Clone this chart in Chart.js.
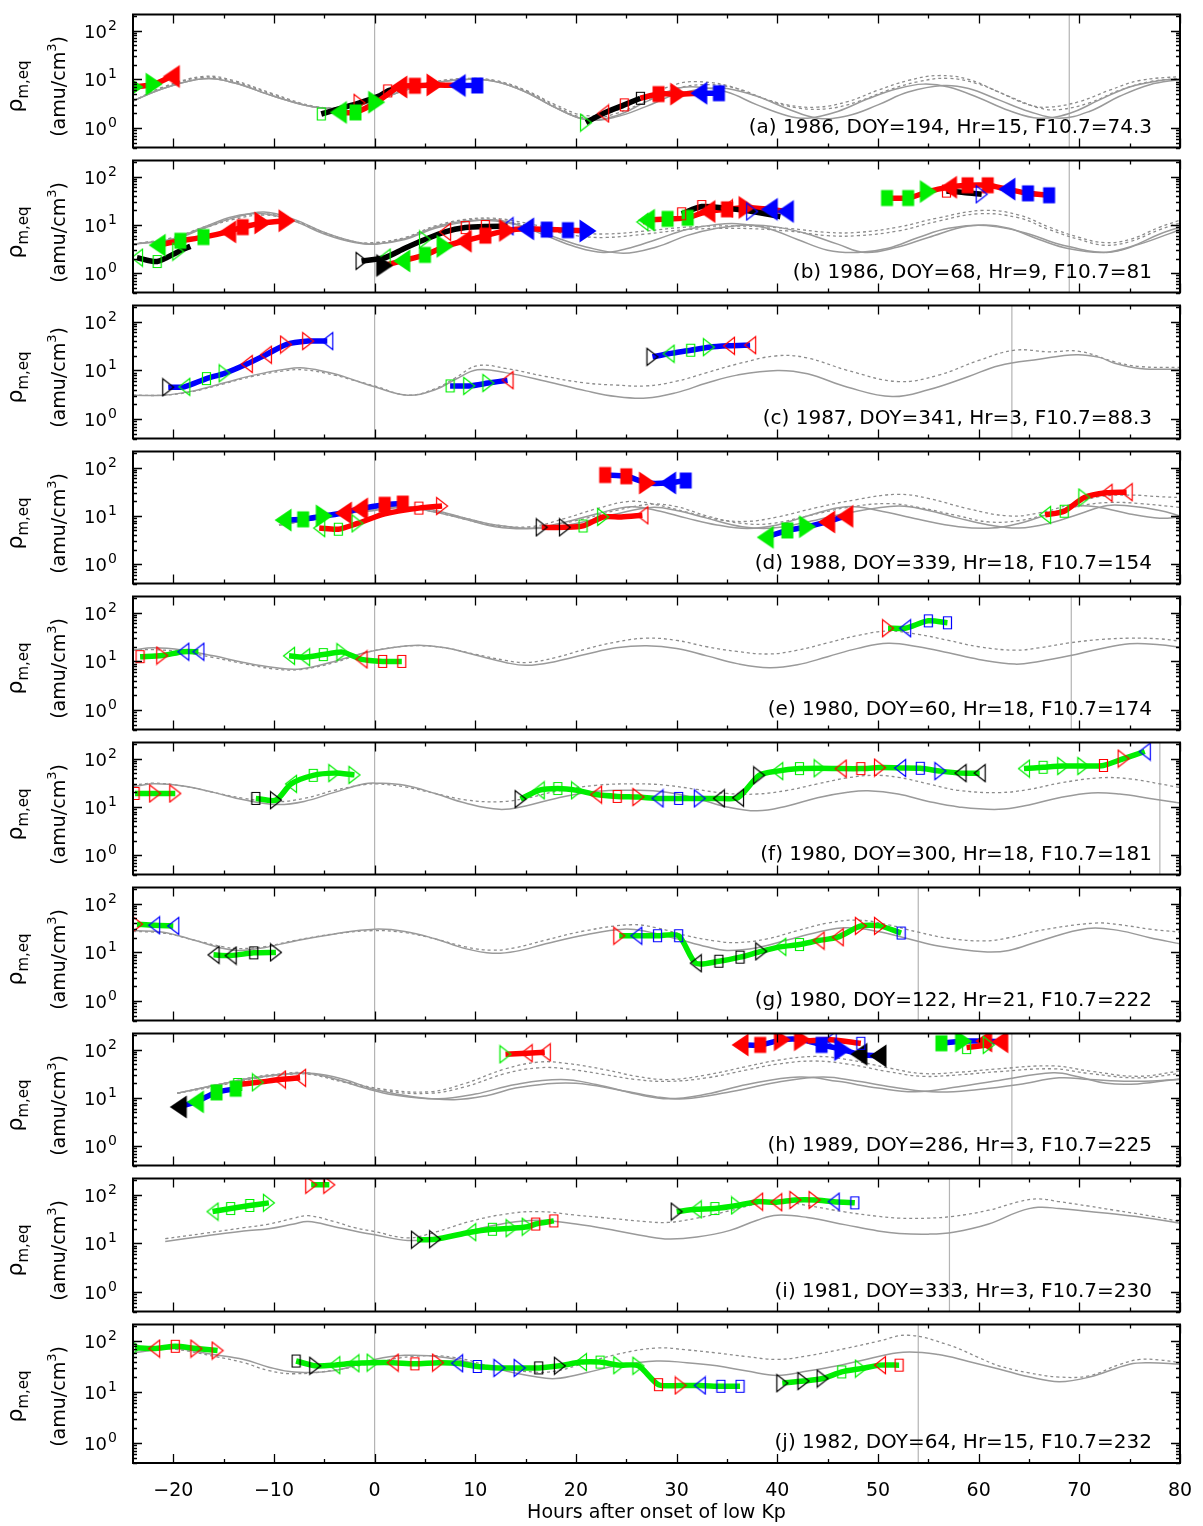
<!DOCTYPE html>
<html>
<head>
<meta charset="utf-8">
<script src="https://cdn.jsdelivr.net/npm/chart.js@4.4.0/dist/chart.umd.min.js"></script>
<style>
  body { margin: 0; background: #fff; width: 1203px; height: 1526px; position: relative; overflow: hidden; }
  canvas { position: absolute; left: 0; }
</style>
</head>
<body>
<script>
// ---- observed density groups (hours after onset, amu/cm^3) ----
// symbol codes: colour (k r b g) + shape (L/R triangle, S square) + f filled / o open
const aObs = [
  [[-23.8, 7], [-21.9, 8], [-20.2, 11.5]],
  [[-5.3, 1.95], [-3.5, 2.5], [-1.5, 3.3], [0.5, 4.6], [1.3, 5.8], [2.2, 6.6]],
  [[-3.6, 2.1], [-1.9, 2.1], [0.2, 3.4], [2.4, 7], [4, 7.4], [6, 7.7], [8.2, 7.5]],
  [[8.2, 7.5], [10.2, 7.5]],
  [[21, 1.3], [22.7, 2], [24.8, 3], [26.4, 4.1]],
  [[26.4, 4.1], [28.2, 5], [30.2, 5], [32.2, 5.2]],
  [[32.2, 5.2], [34.2, 5.2]]
];
const aSym = [
  ['gRf', 'gRf', 'rLf'],
  ['gSo', '', 'rRo', '', 'rSo', ''],
  ['gLf', 'gSf', 'gRf', 'rLf', 'rSf', 'rRf', 'bLf'],
  ['', 'bSf'],
  ['gRo', 'rLo', 'rSo', 'kSo'],
  ['', 'rSf', 'rRf', 'bLf'],
  ['', 'bSf']
];
const aLine = 'rkrbkrb';

const bObs = [
  [[-23.6, 2.1], [-21.6, 1.75], [-19.5, 2.8], [-18.3, 3.6]],
  [[-21.6, 3.8], [-19.3, 4.7], [-17, 5.6], [-14.6, 7.2], [-13.1, 9], [-11.1, 11], [-8.7, 12.2]],
  [[-1.3, 1.8], [1, 2.1], [3, 3.3], [5, 5], [7, 7.2], [9, 8.8], [11, 9.3], [13.2, 9.4]],
  [[1, 1.45], [2.7, 1.8], [5, 2.4], [7, 3.6], [8.8, 4.6], [11, 6], [13.2, 7.7], [15, 8.3], [17.1, 8], [19.2, 7.8], [21.2, 7.5]],
  [[26.6, 11.5], [27, 12.5], [29.1, 13.3], [31.1, 14], [33, 19], [35, 21], [37, 23], [39.2, 21], [40.8, 19]],
  [[30.5, 17], [32.5, 24], [35, 22], [37.5, 19], [40.3, 14.8]],
  [[50.9, 36], [53, 36], [55, 49], [57, 60], [58.9, 66], [60.9, 66], [62.8, 55], [64.9, 45], [67, 41]],
  [[56.8, 50], [58.5, 47], [60.3, 43]]
];
const bSym = [
  ['gLo', 'gSo', 'gRo', ''],
  ['gLf', 'gSf', 'gSf', 'rLf', 'rSf', 'rRf', 'rRf'],
  ['kRo', 'gLo', '', 'gRo', 'rLo', 'rSo', 'rSo', 'bLo'],
  ['kRf', 'gLf', 'gSf', 'gRf', 'rLf', 'rSf', 'rRf', 'bLf', 'bSf', 'bSf', 'bRf'],
  ['gLo', 'gLf', 'gSf', 'gSf', 'rLf', 'rSf', 'rRf', 'bLf', 'bLf'],
  ['rSo', 'rSo', 'rLo', 'bRo', ''],
  ['gSf', 'gSf', 'gRf', 'rLf', 'rSf', 'rSf', 'bLf', 'bSf', 'bSf'],
  ['rSo', '', 'bRo']
];
const bLine = 'krkrrkrk';

const cObs = [
  [[-20.5, 4.5], [-18.9, 4.6], [-16.7, 6.8], [-14.9, 8.7], [-12.7, 13.5], [-10.8, 21], [-8.8, 34], [-6.6, 40], [-4.7, 40]],
  [[7.5, 4.8], [9.4, 4.8], [11.3, 5.5], [13.2, 6.3]],
  [[27.6, 19], [29.2, 22], [31.4, 26], [33.2, 30], [35.2, 32], [37.3, 33]]
];
const cSym = [
  ['kRo', 'gLo', 'gSo', 'gRo', 'rLo', 'rLo', 'rRo', 'rRo', 'bLo'],
  ['gSo', 'gRo', 'gRo', 'rLo'],
  ['kRo', 'gLo', 'gSo', 'gRo', 'rLo', 'rLo']
];
const cLine = 'bbb';

const dObs = [
  [[-9.1, 8.2], [-7.1, 8.5], [-5, 10], [-3.1, 11.5], [-1.5, 14], [1, 17], [2.8, 18]],
  [[-5.5, 5.6], [-3.6, 5.3], [-1.7, 7], [1, 11], [4.4, 14.5], [6.7, 16]],
  [[22.9, 70], [25, 66], [27.1, 48], [29.1, 48], [30.9, 54]],
  [[16.6, 5.8], [18.9, 5.8], [20.7, 6.2], [22.7, 9.5], [24.5, 9.5], [26.6, 10.3]],
  [[38.8, 3.6], [41, 5], [43, 6], [44.9, 7.5], [46.7, 9.8]],
  [[66.6, 10.5], [68.5, 12.5], [70.5, 24], [72.7, 30], [74.7, 31]]
];
const dSym = [
  ['gLf', 'gSf', 'gRf', 'rLf', 'rLf', 'rSf', 'rSf'],
  ['gLo', 'gSo', 'gRo', '', 'rSo', 'rRo'],
  ['rSf', 'rSf', 'rRf', 'bLf', 'bSf'],
  ['kRo', 'kRo', 'gSo', 'gRo', '', 'rLo'],
  ['gLf', 'gSf', 'gRf', 'rLf', 'rLf'],
  ['gLo', 'gSo', 'gRo', 'rLo', 'rLo']
];
const dLine = 'brbrbr';

const eObs = [
  [[-23.3, 12.5], [-21.1, 13.2], [-19, 15.8], [-17.5, 15.8]],
  [[-8.5, 13], [-7, 12.2], [-5.1, 13.8], [-3.2, 15.5], [-1.3, 11], [0.8, 10], [2.7, 10]],
  [[51, 48], [52.7, 48], [55, 68], [56.9, 62]]
];
const eSym = [
  ['rSo', 'rRo', 'bLo', 'bLo'],
  ['gLo', 'gLo', 'gSo', 'gRo', 'rLo', 'rSo', 'rSo'],
  ['rRo', 'bLo', 'bSo', 'bSo']
];
const eLine = 'ggg';

const fObs = [
  [[-23.8, 19], [-21.8, 19], [-19.8, 19]],
  [[-11.8, 15], [-9.8, 13.8], [-8.3, 30], [-6.1, 45], [-4, 50], [-2, 46]],
  [[14.5, 14.5], [16.3, 22], [18.2, 24], [20.1, 22], [22, 18], [24.1, 16.5], [26.2, 16], [28.1, 15], [30.2, 15], [32.3, 15], [34.2, 15], [36.1, 15.5],
   [38.2, 45], [40, 55], [42.2, 62], [44.2, 63], [46.3, 62], [48.3, 62], [50.2, 65], [52.2, 64], [54.2, 63], [56.2, 55], [58.2, 50], [60.1, 50]],
  [[64.5, 62], [66.4, 66], [68.4, 70], [70.4, 70], [72.4, 72], [74.4, 100], [76.5, 140]]
];
const fSym = [
  ['rSo', 'rRo', 'rRo'],
  ['kSo', 'kRo', 'gLo', 'gSo', 'gRo', 'gRo'],
  ['kRo', 'gLo', 'gSo', 'gRo', 'rLo', 'rSo', 'rRo', 'bLo', 'bSo', 'bRo', 'kLo', 'kLo',
   'kRo', 'gLo', 'gSo', 'gRo', 'rLo', 'rSo', 'rRo', 'bLo', 'bSo', 'bRo', 'kLo', 'kLo'],
  ['gLo', 'gSo', 'gRo', 'gRo', 'rSo', 'rRo', 'bLo']
];
const fLine = 'gggg';

const gObs = [
  [[-23.6, 38], [-21.9, 36], [-20, 35]],
  [[-16, 8.9], [-14.3, 8.6], [-12, 9.8], [-9.8, 10]],
  [[24.3, 22], [26, 22], [28.1, 22], [30.2, 22], [31.9, 6], [34.2, 6.6], [36.3, 8], [38.4, 10.5], [40.3, 13], [42.2, 14.5],
   [44.1, 17.5], [46, 20.5], [48.3, 35], [50.2, 35], [52.3, 25]]
];
const gSym = [
  ['rRo', 'bLo', 'bLo'],
  ['kLo', 'kLo', 'kSo', 'kRo'],
  ['rRo', 'bLo', 'bSo', 'bSo', 'kLo', 'kSo', 'kSo', 'kRo', 'gLo', 'gSo', 'rLo', 'rLo', 'rRo', 'rRo', 'bSo']
];
const gLine = 'ggg';

const hObs = [
  [[-19.5, 6.5], [-17.8, 8.3], [-15.7, 13], [-13.8, 15.5]],
  [[-13.6, 19], [-11.6, 21], [-9.4, 24], [-7.4, 26]],
  [[13, 80], [15.1, 84], [16.9, 88]],
  [[36.3, 125], [38.3, 125], [40.5, 160], [42.5, 160], [44.4, 125], [46.5, 100], [48.1, 80], [50, 74]],
  [[43, 150], [45.3, 160], [48.3, 135]],
  [[56.3, 135], [58.5, 150], [60.5, 150], [62.1, 145]],
  [[58.8, 110], [61, 125]]
];
const hSym = [
  ['kLf', 'gLf', 'gSf', 'gSf'],
  ['gSo', 'gRo', 'rLo', 'rLo'],
  ['gRo', 'rLo', 'rLo'],
  ['rLf', 'rSf', 'rRf', 'rRf', 'bSf', 'bRf', 'kLf', 'kLf'],
  ['', 'bLo', 'bSo'],
  ['gSf', 'gRf', 'rLf', 'rLf'],
  ['gSo', 'gRo']
];
const hLine = 'brrbrbr';

const iObs = [
  [[-16.1, 45], [-14.3, 52], [-12.4, 60], [-10.5, 68]],
  [[-6.3, 160], [-4.5, 160]],
  [[4.2, 11.9], [6, 12.2], [9.5, 17], [11.7, 19.5], [13.6, 20.5], [15.2, 22], [16, 25], [17.8, 29]],
  [[30, 45], [31.9, 50], [33.8, 52], [36, 60], [38, 72], [39.9, 70], [41.8, 78], [43.7, 78], [45.6, 72], [47.7, 68]]
];
const iSym = [
  ['gLo', 'gSo', 'gSo', 'gRo'],
  ['rRo', 'rRo'],
  ['kRo', 'kRo', 'gLo', 'gSo', 'gRo', 'gRo', 'rSo', 'rSo'],
  ['kRo', 'gLo', 'gSo', 'gRo', 'rLo', 'rLo', 'rRo', 'rRo', 'bLo', 'bSo']
];
const iLine = 'gggg';

const jObs = [
  [[-23.8, 75], [-21.9, 72], [-19.8, 80], [-17.7, 72], [-15.6, 66]],
  [[-7.8, 41], [-5.9, 33], [-4, 34], [-2.1, 37], [-0.2, 38], [1.8, 38], [4, 36], [6.3, 38], [8.2, 37], [10.2, 32], [12.4, 30], [14.4, 30],
   [16.3, 30], [18.4, 33], [20.5, 39], [22.4, 39], [24.3, 34], [26.2, 33], [28.2, 14], [30.4, 13.5], [32.3, 13.5], [34.4, 13], [36.3, 13]],
  [[40.5, 15], [42.6, 16.5], [44.5, 18.5], [46.4, 25], [48.3, 29], [50.2, 34], [52.1, 34]]
];
const jSym = [
  ['gRo', 'rLo', 'rSo', 'rRo', 'rRo'],
  ['kSo', 'kRo', 'gLo', 'gLo', 'gRo', 'rLo', 'rSo', 'rRo', 'bLo', 'bSo', 'bRo', 'bRo',
   'kSo', 'kRo', 'gLo', 'gSo', 'gRo', 'gRo', 'rSo', 'rRo', 'bLo', 'bSo', 'bSo'],
  ['kRo', 'kRo', 'kRo', 'gSo', 'gRo', 'rLo', 'rSo']
];
const jLine = 'ggg';

// ---- model curves (solid and dashed) ----
const aSolid1 = [[-24,3.6],[-21,6.5],[-17,10.3],[-14,8.5],[-10,4.5],[-6,2.7],[-3,2.6],[0,3.6],[3,6],[6,8.5],[9,10],[12,9],[15,5.5],[18,2.6],[21,1.5],[24,1.8],[27,3.5],[30,6.5],[32,7],[35,5.5],[38,3],[41,1.8],[43,1.6],[46,2.2],[49,4],[52,6.5],[54.5,8],[57,7],[60,4.2],[63,2.3],[66,1.6],[69,2],[72,3.8],[75,7],[78,9.5],[80,10]];
const aSolid2 = [[-24,3.6],[-21,6.5],[-17,10.3],[-14,8.5],[-10,4.5],[-6,2.7],[-3,2.6],[0,3.6],[3,6],[6,8.5],[9,10],[12,9],[15,5.5],[18,2.6],[21,1.5],[24,1.7],[27,2.8],[30,5],[33,6.5],[35,6.5],[38,4.5],[41,2.5],[44,1.6],[47,1.8],[50,3],[53,5.5],[56.5,7.5],[59,6.5],[62,3.8],[65,2.2],[68,1.6],[71,2.2],[74,4.5],[77,7.8],[80,10]];
const aDashed1 = [[-24,3.6],[-21,7],[-17,11.5],[-14,9.5],[-10,5],[-6,2.8],[-3,2.7],[0,3.8],[3,6.5],[6,9],[9,10.5],[12,9.5],[15,6],[18,3],[21,1.8],[24,2.3],[27,4.5],[30,8],[32,9],[35,7.5],[38,4.5],[41,3],[44,2.7],[47,3.5],[50,6],[53,9.5],[56,12],[59,10],[62,5.5],[65,3],[67,2.7],[70,3.5],[73,6],[76,9.5],[80,11.5]];
const aDashed2 = [[-24,3.6],[-21,6.8],[-17,11],[-14,9],[-10,4.8],[-6,2.7],[-3,2.7],[0,3.7],[3,6.2],[6,8.7],[9,10.2],[12,9.2],[15,5.8],[18,2.8],[21,1.6],[24,2],[27,3.6],[30,6.5],[33,7.8],[36,6.5],[39,3.8],[42,2.6],[45,2.5],[48,3.5],[51,6],[54,9],[57,10.5],[60,8],[63,4.5],[66,2.6],[68,2.4],[71,3.3],[74,6],[77,9],[80,10.5]];

const bSolid1 = [[-24,4],[-20,5],[-17,8.5],[-14,14],[-11,18.5],[-8,13],[-5,7],[-2,4.5],[0,4],[3,5],[6,8.5],[9,11.5],[11.7,12.8],[14,10.5],[17,6],[20,3.5],[22.7,2.7],[25,3.2],[28,5],[31,8],[34,10.2],[36,10.6],[39,8.5],[42,5],[45,3],[48,2.7],[51,3.3],[54,5.5],[57,8.5],[60.5,10],[63,8.5],[66,5],[69,3.2],[72.4,2.7],[75,3.5],[78,6.5],[80,9]];
const bSolid2 = [[-24,4],[-20,5.2],[-17,9],[-14,15],[-11,17],[-8,12],[-5,6.5],[-2,4.3],[0,4],[3,5.2],[6,9],[9,12],[12,12],[15,9],[18,5.5],[21,3.5],[24.7,2.6],[28,3.5],[31,6],[34,8.5],[37.2,10],[40,9],[43,6.5],[46,4],[48.7,2.7],[52,3.5],[55,5.5],[59,9.5],[62,9],[65,6.5],[68,4],[72.7,2.7],[76,4],[80,8]];
const bDashed1 = [[-24,4],[-20,5.5],[-17,9],[-14,14],[-11,17],[-8,12.5],[-5,7],[-2,4.5],[0,4.3],[3,5.5],[6,9.5],[9,13],[11.7,13.8],[14,12],[17,9],[20,7],[23,6.5],[27,7.5],[31,9],[36,9.5],[41,8.5],[45,7],[48,7],[52,9],[56,14],[60.5,20],[64,16],[67,9],[70,5.5],[72.5,4.3],[75,5],[78,9],[80,12.5]];
const bDashed2 = [[-24,4],[-20,5.3],[-17,8.5],[-14,13],[-11,16],[-8,12],[-5,6.8],[-2,4.4],[0,4.2],[3,5.3],[6,9],[9,12.5],[11.7,13],[14,11],[17,8],[20,6],[23,5.5],[27,6.5],[31,8],[36,8.5],[41,7.5],[45,6],[48,6],[52,7.5],[56,12],[60,17],[64,14],[67,8],[70,5],[72.5,3.8],[75,4.5],[78,8],[80,11]];

const cSolid = [[-24,3.1],[-21,3.1],[-18,3.8],[-15,5.5],[-12,8],[-9,10.5],[-7,11.2],[-4,8.5],[-2,6.3],[0,4.6],[3.3,3.1],[6,4],[8,6.5],[10.2,10.3],[13,9],[17,6],[21,3.8],[24,2.9],[27,2.7],[30,3.5],[33,5.5],[36,8],[40,10],[43,8.5],[47,4.5],[51.4,2.9],[55,4],[59,7.5],[62,12.5],[66,17],[69.7,21],[72,18.5],[73.5,14],[76,11],[80,10.5]];
const cDashed = [[-24,3.1],[-21,3.1],[-18,3.7],[-15,5.3],[-12,7.6],[-9,9.8],[-7,10.3],[-4,8],[-2,6.2],[0,4.8],[3.3,3.1],[6,4.2],[8,7],[10.2,12.5],[13,11],[17,7.5],[21,5.5],[24,5],[27,4.8],[30,6],[33,9],[36,13.5],[40,20],[43,18],[47,10],[52,5.9],[56,8],[60,16],[63.6,26],[67,24],[70,24.7],[73.5,15],[76,12],[80,11.5]];

const dSolid1 = [[-9.5,6.5],[-6,8.5],[-3,11],[0,13],[3,15],[6,12],[9,8.5],[12,6],[15.5,5.5],[19,7.5],[22,11],[25.4,15.5],[28,13],[31,9],[34,6.5],[37,5.5],[40,6.5],[43,10],[46.8,15.5],[50,13],[54,8.5],[58,6],[61.3,5.6],[64,7],[67,11],[69.7,16],[72,15],[75,11],[78,9],[80,9.5]];
const dSolid2 = [[-9.5,6.5],[-6,8.5],[-3,11],[0,13.5],[3,15.5],[6,13],[9,9],[12,6.5],[16,5.5],[20,7],[24,11],[27.5,15],[30,13],[33,9],[36.5,6],[39.5,5.6],[43,7.5],[47,11.5],[52,16],[55,13],[58,9],[61,6.5],[64,5.6],[67,7],[70,11],[72.8,16.5],[75,16],[78,13],[80,10]];
const dDashed1 = [[-9.5,6.5],[-6,8.7],[-3,11.5],[0,14],[3,15.5],[6,12.5],[9,9],[12,6.5],[15.5,6],[19,9],[22,14],[25.4,20],[28,17],[31,12],[34,8.5],[37,7.7],[40,9.5],[44,15],[48,22],[52,28],[55,23],[59,14],[63,10],[66,11.5],[69,17],[72,25],[75,27],[78,25],[80,24]];
const dDashed2 = [[-9.5,6.5],[-6,8.5],[-3,11],[0,13.5],[3,15],[6,12],[9,8.5],[12,6.2],[16,5.7],[20,8],[24,13],[27.5,17.5],[30,15.5],[33,10],[36.5,7],[39.5,7],[43,10],[47,15],[51,18],[54,15],[58,10],[61,7.5],[64,8],[67,11],[70,16],[73,19],[76,18],[80,15]];

const eSolid = [[-24,17],[-22,19],[-19,17],[-16,13],[-13,9.5],[-10,7.5],[-7.4,7],[-4,10],[-1,15],[2,19.5],[4.4,21.5],[7,19],[10,13.5],[13,9.5],[15.1,8.3],[18,10],[21,14],[24,19],[27,21],[30,18.5],[33,13],[36,9],[39.2,7.4],[42,8.5],[45,12.5],[48,18.5],[51,23.5],[54,20],[57,15],[60,11],[63.6,8.8],[66,10],[69,13],[72,18],[75,23],[78,22],[80,19.5]];
const eDashed = [[-24,17],[-22,17.5],[-19,15.5],[-16,12],[-13,9],[-10,7],[-7.4,6.8],[-4,9.5],[-1,15],[2,19.5],[4.4,21],[7,19],[10,14],[13,10.5],[15.1,9.5],[18,12],[21,18],[24,25],[27,30],[30,27],[33,20],[36,16],[39.2,14.2],[42,17],[45,24],[48,34],[51,42],[54,36],[57,27],[60,20],[63.6,17],[66,19],[69,24],[72,28],[75,30],[78,29],[80,26]];

const fSolid = [[-24,26],[-22,30],[-19,27],[-16,20],[-13,14],[-9.7,11.2],[-7,13],[-4,20],[-1,30],[0.2,31],[3,28],[6,19],[9,12],[12.4,8.9],[15,10.5],[18,15],[22,21],[26.2,22],[29,20],[32,15],[35,10],[38,8.3],[41,10.5],[44,15.5],[47,20],[49,21.5],[52,18.5],[55,13],[58,10],[62,8.9],[65,11],[68,15.5],[71.2,19.5],[74,18.5],[77,15],[80,12]];
const fDashed = [[-24,28],[-22,31],[-19,27],[-16,20],[-13,15],[-9.7,12.8],[-7,15],[-4,22],[-1,29],[0.2,30],[3,26],[6,19],[9,14],[12.4,12.8],[15,15],[18,21],[22,28],[26.2,30],[29,28],[32,23],[35,19],[38,18.5],[41,22],[44,30],[47,40],[49.5,45],[52,41],[55,30],[58,22],[62,19.8],[65,23],[68,31],[72,40],[75,38],[78,30],[80,25]];

const gSolid = [[-24,28],[-21,26],[-18,18],[-15,12],[-13.5,11],[-11,12.5],[-8,17],[-4,24],[0,30],[3,27],[6,19],[9,12],[11.7,9.6],[14,10.5],[17,15],[21,23],[24.7,30],[27,27],[30,19],[33,13],[35,11],[38,12.5],[41,18],[44,26],[46.8,32],[50,27],[53,19],[56,13.5],[60.5,10.3],[63,11],[66,17],[70.8,31],[74,28],[77,20],[80,15]];
const gDashed = [[-24,27],[-21,25],[-18,18],[-15,13],[-13.5,12],[-11,13],[-8,17.5],[-4,24],[0,28],[3,25.5],[6,19],[9,13],[11.7,11.1],[14,12.5],[17,18],[21,28],[25.5,37],[28,32],[31,22],[34,17],[36,15.9],[39,19],[42,28],[45,40],[48,46],[51,37],[54,26],[57,19.5],[60.5,17.2],[63,20],[66,28],[71.5,40],[74,37],[77,30],[80,26]];

const hSolid1 = [[-19.6,12.5],[-16,18],[-12,26],[-9,31],[-6.6,32],[-4,25],[-1,16],[2,11.5],[6.3,9.6],[10,12],[14,19],[18.5,24],[22,19],[26,12],[29.2,9.6],[33,12],[37,19],[42.2,27],[46,22],[50,16],[53.7,13.4],[58,17],[62,23],[67.4,33],[70,27],[72.7,20],[75.8,19.5],[80,25]];
const hSolid2 = [[-19.6,12.5],[-16,18],[-12,26],[-9,31],[-6,32],[-3,24],[0,15],[4,10.5],[7.9,9.2],[11,11],[14,16],[17,19.5],[20,20],[24,15],[28,10.5],[30.8,9.6],[35,13],[40,21],[44.5,27],[48,22],[52,16],[56,13.2],[60,15],[64,19],[68,26],[71,24],[75,22],[80,24]];
const hDashed1 = [[-19.6,12.5],[-16,18],[-12,27],[-9,32],[-6.6,33],[-3,22],[1,15],[5.6,13.5],[9,20],[13,40],[16.3,55],[19,52],[23,38],[26,28],[29.2,24],[33,30],[37,45],[40,60],[43.7,72],[47,62],[51,42],[54.4,32],[58,34],[62,40],[67.4,46],[71,36],[75.8,28],[80,36]];
const hDashed2 = [[-19.6,12.5],[-16,17],[-12,25],[-9,30],[-6.6,31],[-3,21],[1,14],[5.6,12.5],[9,17],[13,32],[16.3,42],[19,40],[23,30],[26,24],[29.2,22],[33,26],[37,38],[40,50],[43.7,58],[47,50],[51,35],[54.4,28],[58,30],[62,35],[67.4,40],[71,32],[75.8,26],[80,32]];

const iSolid = [[-20.8,11],[-17,14],[-13,18],[-10.5,20],[-8,25],[-6.6,28],[-4,22],[-2,18],[0,15],[3.3,11.5],[6,12.5],[9.4,18],[13,26],[16.3,30],[20,25],[23.9,18.5],[27,14],[29.2,12.3],[32,13.5],[35.3,18.5],[38,30],[40,38],[43,34],[46.8,24],[50,18],[52.1,16],[55,15.5],[57.5,17],[61,25],[64,45],[65.9,55],[68,52],[71,45],[73.5,40],[77.3,32],[80,26]];
const iDashed = [[-20.8,12.5],[-17,16],[-13,21],[-10.5,25],[-8,33],[-6.6,37],[-4,28],[-2,21],[0,17.5],[3.3,13],[6,17],[9.4,28],[13,40],[16.3,45],[20,38],[23.9,32],[27,28],[29.2,27],[32,33],[35.3,47],[38,65],[40,75],[43,60],[46.8,44],[50,36],[52.1,33],[55,33],[57.5,36],[61,48],[64,72],[65.9,82],[68,72],[71,58],[73.5,48],[77.3,36],[80,28]];

const jSolid = [[-24,60],[-20,72],[-16,55],[-13,44],[-10.5,31],[-8,25],[-4,26.5],[0,44],[3,53],[7,48],[12,29],[16,20],[18,18.5],[21,24],[24,33],[28,41],[31,38],[34,33],[37,26],[40,21.3],[43,26],[46,33],[49,45],[52.5,61],[56,55],[59,40],[62,28.6],[65,20],[68,16],[71,19.8],[75,35.5],[77,38],[80,35.5]];
const jDashed = [[-24,68],[-20,70],[-16,51],[-13,38],[-10.5,26.5],[-8,23],[-4,27],[0,38],[4,51],[8,48],[12,30.7],[16,24.7],[18,26],[20,33],[24,55],[28,74],[31,68],[34,59],[37,50],[40,44],[43,52],[47,74],[50,100],[53,132],[57,85],[60,48],[62,33],[65,24],[68,19.8],[71,21],[74,35],[76,44],[78,43],[80,38]];

// vertical reference times (hours)
const aMarks = [0, 69], bMarks = [0, 69], cMarks = [0, 63.3], dMarks = [0], eMarks = [0, 69.2];
const fMarks = [0, 78], gMarks = [0, 54], hMarks = [0, 63.3], iMarks = [0, 57.1], jMarks = [0, 54];

const panelLabels = [
  '(a) 1986, DOY=194, Hr=15, F10.7=74.3',
  '(b) 1986, DOY=68, Hr=9, F10.7=81',
  '(c) 1987, DOY=341, Hr=3, F10.7=88.3',
  '(d) 1988, DOY=339, Hr=18, F10.7=154',
  '(e) 1980, DOY=60, Hr=18, F10.7=174',
  '(f) 1980, DOY=300, Hr=18, F10.7=181',
  '(g) 1980, DOY=122, Hr=21, F10.7=222',
  '(h) 1989, DOY=286, Hr=3, F10.7=225',
  '(i) 1981, DOY=333, Hr=3, F10.7=230',
  '(j) 1982, DOY=64, Hr=15, F10.7=232'
];
const xTicks = [-20, -10, 0, 10, 20, 30, 40, 50, 60, 70, 80];

const X_MIN = -24, X_MAX = 80, Y_MIN = 0.4, Y_MAX = 215;
const PANEL_TOP = 8, PANEL_H = 145.5, PAD = 3, AXIS_H = 63;
const FONT = '"DejaVu Sans", sans-serif';
const COLORS = { k: '#000000', r: '#ff0000', b: '#0000ff', g: '#00ee00' };

const panels = [
  { obs: aObs, sym: aSym, line: aLine, solid: [aSolid1, aSolid2], dashed: [aDashed1, aDashed2], marks: aMarks },
  { obs: bObs, sym: bSym, line: bLine, solid: [bSolid1, bSolid2], dashed: [bDashed1, bDashed2], marks: bMarks },
  { obs: cObs, sym: cSym, line: cLine, solid: [cSolid], dashed: [cDashed], marks: cMarks },
  { obs: dObs, sym: dSym, line: dLine, solid: [dSolid1, dSolid2], dashed: [dDashed1, dDashed2], marks: dMarks },
  { obs: eObs, sym: eSym, line: eLine, solid: [eSolid], dashed: [eDashed], marks: eMarks },
  { obs: fObs, sym: fSym, line: fLine, solid: [fSolid], dashed: [fDashed], marks: fMarks },
  { obs: gObs, sym: gSym, line: gLine, solid: [gSolid], dashed: [gDashed], marks: gMarks },
  { obs: hObs, sym: hSym, line: hLine, solid: [hSolid1, hSolid2], dashed: [hDashed1, hDashed2], marks: hMarks },
  { obs: iObs, sym: iSym, line: iLine, solid: [iSolid], dashed: [iDashed], marks: iMarks },
  { obs: jObs, sym: jSym, line: jLine, solid: [jSolid], dashed: [jDashed], marks: jMarks }
];

// marker images, built once per code
const symCache = {};
function symbol(code) {
  if (symCache[code]) return symCache[code];
  const col = COLORS[code[0]], shape = code[1], filled = code[2] === 'f';
  let w, h;
  if (shape === 'S') { w = filled ? 13 : 9; h = filled ? 17 : 13; }
  else { w = filled ? 18 : 12; h = filled ? 24 : 18; }
  const c = document.createElement('canvas');
  c.width = w + 2; c.height = h + 2;
  const g = c.getContext('2d');
  g.translate(1, 1);
  g.beginPath();
  if (shape === 'S') g.rect(0.5, 0.5, w - 1, h - 1);
  else if (shape === 'R') { g.moveTo(0.5, 0.5); g.lineTo(w - 0.5, h / 2); g.lineTo(0.5, h - 0.5); g.closePath(); }
  else { g.moveTo(w - 0.5, 0.5); g.lineTo(0.5, h / 2); g.lineTo(w - 0.5, h - 0.5); g.closePath(); }
  if (filled) { g.fillStyle = col; g.fill(); }
  else { g.strokeStyle = col; g.lineWidth = 1.2; g.stroke(); }
  symCache[code] = c;
  return c;
}

function flatten(p) {
  const data = [], sym = [], seg = [];
  p.obs.forEach((grp, gi) => {
    if (gi > 0) { data.push({ x: null, y: null }); sym.push(''); seg.push(''); }
    grp.forEach((pt, k) => {
      data.push({ x: pt[0], y: pt[1] });
      sym.push(p.sym[gi][k] || '');
      seg.push(p.line[gi]);
    });
  });
  return { data, sym, seg };
}

const toXY = arr => arr.map(q => ({ x: q[0], y: q[1] }));

// frame, inward ticks, y labels, y title and panel caption
const framePlugin = {
  id: 'frame',
  afterDraw(chart, args, opts) {
    const { ctx, chartArea: { left, right, top, bottom }, scales: { x, y } } = chart;
    ctx.save();
    ctx.strokeStyle = '#000';
    ctx.lineWidth = 1.3;
    ctx.beginPath();
    for (let hr = -20; hr <= X_MAX; hr += 5) {
      const px = Math.round(x.getPixelForValue(hr)) + 0.5;
      const len = hr % 10 === 0 ? 9 : 4;
      ctx.moveTo(px, bottom); ctx.lineTo(px, bottom - len);
      ctx.moveTo(px, top); ctx.lineTo(px, top + len);
    }
    for (let e = -1; e <= 2; e++) {
      for (let m = 1; m <= 9; m++) {
        const v = m * Math.pow(10, e);
        if (v < Y_MIN || v > Y_MAX) continue;
        const py = Math.round(y.getPixelForValue(v)) + 0.5;
        const len = m === 1 ? 9 : 4;
        ctx.moveTo(left, py); ctx.lineTo(left + len, py);
        ctx.moveTo(right, py); ctx.lineTo(right - len, py);
      }
    }
    ctx.stroke();
    ctx.lineWidth = 2;
    ctx.strokeRect(left, top, right - left, bottom - top);

    // y tick labels 10^0 10^1 10^2
    ctx.fillStyle = '#000';
    ctx.textBaseline = 'alphabetic';
    [0, 1, 2].forEach(e => {
      const py = y.getPixelForValue(Math.pow(10, e));
      ctx.font = '18px ' + FONT;
      ctx.textAlign = 'right';
      ctx.fillText('10', 107, py + 7);
      ctx.font = '14px ' + FONT;
      ctx.textAlign = 'left';
      ctx.fillText(String(e), 108, py - 1);
    });

    // y title, rotated
    const cy = top + 72;
    ctx.save();
    ctx.translate(0, cy);
    ctx.rotate(-Math.PI / 2);
    ctx.font = '22px ' + FONT;
    const wRho = ctx.measureText('\u03c1').width;
    ctx.font = '15px ' + FONT;
    const wSub = ctx.measureText('m,eq').width;
    let x0 = -(wRho + wSub) / 2;
    ctx.textAlign = 'left';
    ctx.font = '22px ' + FONT;
    ctx.fillText('\u03c1', x0, 22);
    ctx.font = '15px ' + FONT;
    ctx.fillText('m,eq', x0 + wRho, 28);
    ctx.font = '19px ' + FONT;
    const wA = ctx.measureText('(amu/cm').width, wP = ctx.measureText(')').width;
    ctx.font = '13px ' + FONT;
    const w3 = ctx.measureText('3').width;
    x0 = -(wA + w3 + wP) / 2;
    ctx.font = '19px ' + FONT;
    ctx.fillText('(amu/cm', x0, 65);
    ctx.fillText(')', x0 + wA + w3, 65);
    ctx.font = '13px ' + FONT;
    ctx.fillText('3', x0 + wA, 56);
    ctx.restore();

    // caption
    ctx.font = '20px ' + FONT;
    ctx.textAlign = 'right';
    ctx.fillText(opts.label, 1152, bottom - 15);
    ctx.restore();
  }
};

panels.forEach((p, i) => {
  const last = i === panels.length - 1;
  const y0 = Math.round(PANEL_TOP + i * PANEL_H);
  const y1 = Math.round(PANEL_TOP + (i + 1) * PANEL_H);
  const canvas = document.createElement('canvas');
  canvas.width = 1203;
  canvas.height = (y1 - y0) + PAD + (last ? AXIS_H : PAD);
  canvas.style.top = (y0 - PAD) + 'px';
  document.body.appendChild(canvas);

  const flat = flatten(p);
  const datasets = [{
    data: flat.data,
    borderColor: '#ff0000',
    borderWidth: 5.5,
    tension: 0.25,
    spanGaps: false,
    segment: { borderColor: c => COLORS[flat.seg[c.p0DataIndex]] },
    pointStyle: c => flat.sym[c.dataIndex] ? symbol(flat.sym[c.dataIndex]) : 'circle',
    pointRadius: c => flat.sym[c.dataIndex] ? 1 : 0
  }];
  p.solid.forEach(s => datasets.push({
    data: toXY(s), borderColor: '#9a9a9a', borderWidth: 1.5, pointRadius: 0, tension: 0.4
  }));
  p.dashed.forEach(s => datasets.push({
    data: toXY(s), borderColor: '#8c8c8c', borderWidth: 1.3, borderDash: [3, 3], pointRadius: 0, tension: 0.4
  }));
  p.marks.forEach(m => datasets.push({
    data: [{ x: m, y: Y_MIN }, { x: m, y: Y_MAX }], borderColor: '#b4b4b4', borderWidth: 1.2, pointRadius: 0
  }));

  new Chart(canvas, {
    type: 'line',
    data: { datasets },
    plugins: [framePlugin],
    options: {
      responsive: false,
      animation: false,
      events: [],
      layout: { padding: { left: 0, right: 23, top: PAD, bottom: last ? 0 : PAD } },
      plugins: { legend: { display: false }, tooltip: { enabled: false }, frame: { label: panelLabels[i] } },
      scales: {
        x: {
          type: 'linear', min: X_MIN, max: X_MAX, display: last,
          grid: { display: false }, border: { display: false },
          afterBuildTicks: s => { s.ticks = xTicks.map(v => ({ value: v })); },
          afterFit: s => { s.height = last ? AXIS_H : 0; },
          ticks: {
            autoSkip: false, maxRotation: 0, padding: 9, color: '#000',
            font: { family: FONT, size: 19 },
            callback: v => v < 0 ? '\u2212' + Math.abs(v) : String(v)
          },
          title: {
            display: true, text: 'Hours after onset of low Kp', color: '#000',
            font: { family: FONT, size: 19 }, padding: { top: 0, bottom: 2 }
          }
        },
        y: {
          type: 'logarithmic', min: Y_MIN, max: Y_MAX,
          grid: { display: false }, border: { display: false },
          ticks: { display: false },
          afterFit: s => { s.width = 133; }
        }
      }
    }
  });
});
</script>
</body>
</html>
